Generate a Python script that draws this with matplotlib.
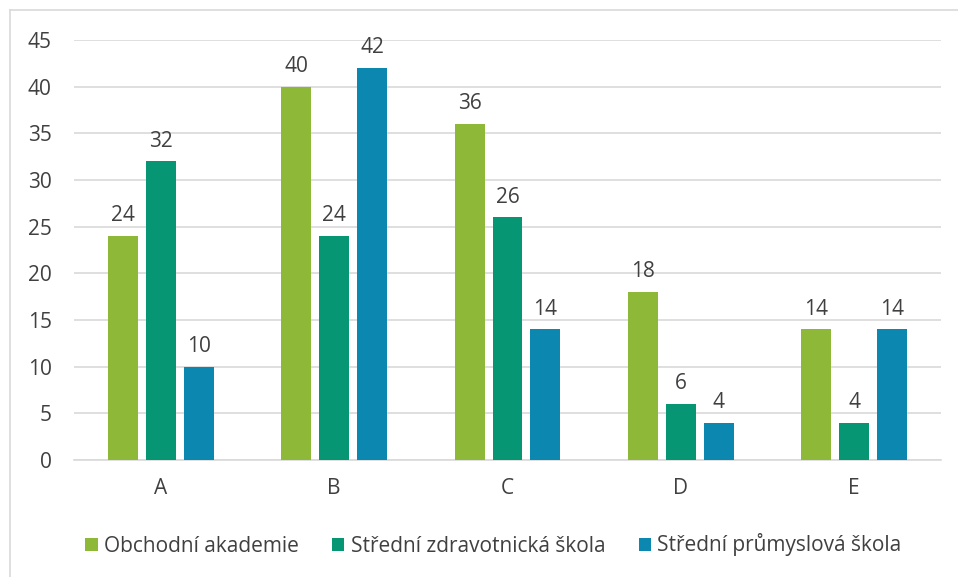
import matplotlib
matplotlib.use("Agg")
import matplotlib.pyplot as plt
from matplotlib.lines import Line2D
import numpy as np

categories = ["A", "B", "C", "D", "E"]
series_names = ["Obchodní akademie", "Střední zdravotnická škola", "Střední průmyslová škola"]
obchodni = [24, 40, 36, 18, 14]
zdravotnicka = [32, 24, 26, 6, 4]
prumyslova = [10, 42, 14, 4, 14]
colors = ["#8DB838", "#079673", "#0B87B0"]

plt.rcParams['font.family'] = ['Open Sans', 'DejaVu Sans']

fig = plt.figure(figsize=(9.58, 5.77), dpi=100)
ax = fig.add_axes([74/958, 1-460/577, (941-74)/958, (460-40)/577])

x = np.arange(len(categories))
width = 0.173
step = 0.219
text_color = "#404040"
fs = 15
for i, (vals, name, c) in enumerate(zip([obchodni, zdravotnicka, prumyslova], series_names, colors)):
    pos = x + (i - 1) * step
    bars = ax.bar(pos, vals, width, color=c, label=name, zorder=3)
    for p, v in zip(pos, vals):
        ax.annotate(str(v), (p, v), xytext=(0, 7), textcoords="offset points",
                    ha="center", va="bottom", fontsize=fs, color=text_color)

ax.set_xlim(-0.5, 4.5)
ax.set_ylim(0, 45)
ax.set_yticks(range(0, 46, 5))
ax.set_xticks(x)
ax.set_xticklabels(categories)
ax.yaxis.grid(True, color="#D9D9D9", linewidth=1.2, zorder=0)
ax.set_axisbelow(True)
for s in ["top", "right", "left"]:
    ax.spines[s].set_visible(False)
ax.spines["bottom"].set_color("#D9D9D9")
ax.spines["bottom"].set_linewidth(1.2)
ax.tick_params(axis="both", length=0, labelsize=fs, labelcolor=text_color)
ax.tick_params(axis="y", pad=16)
ax.tick_params(axis="x", pad=13)

leg = fig.legend(loc="center", bbox_to_anchor=(0.515, 1-545/577), ncol=3, frameon=False,
                 fontsize=fs, handlelength=0.6, handleheight=0.6, handletextpad=0.3,
                 columnspacing=1.6, labelcolor=text_color)

fig.add_artist(Line2D([10/958, 10/958], [0, 1-10/577], transform=fig.transFigure, color="#D9D9D9", linewidth=1.2))
fig.add_artist(Line2D([10/958, 1], [1-10/577, 1-10/577], transform=fig.transFigure, color="#D9D9D9", linewidth=1.2))

fig.savefig("out.png", dpi=100)
